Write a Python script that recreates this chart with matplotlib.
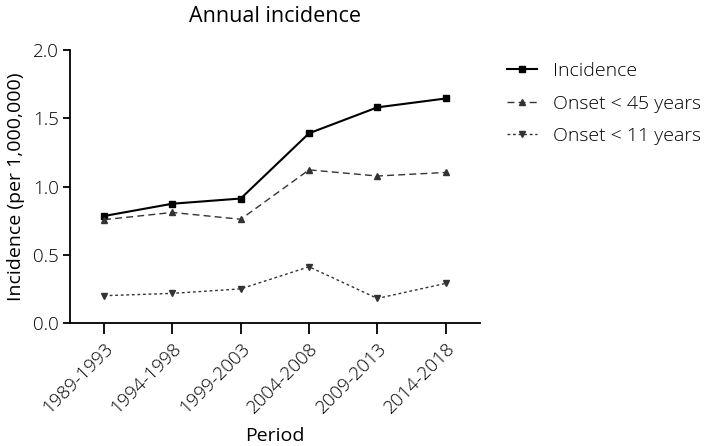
import matplotlib.pyplot as plt

plt.rcParams['font.family'] = ['Open Sans', 'DejaVu Sans']
plt.rcParams['font.weight'] = 'light'

periods = ['1989-1993', '1994-1998', '1999-2003', '2004-2008', '2009-2013', '2014-2018']
incidence = [0.784, 0.874, 0.912, 1.39, 1.58, 1.645]
onset_45 = [0.757, 0.81, 0.76, 1.122, 1.077, 1.103]
onset_11 = [0.20, 0.217, 0.25, 0.412, 0.18, 0.29]

fig = plt.figure(figsize=(7.09, 4.46), dpi=100)
ax = fig.add_axes([0.0987, 0.2758, 0.578, 0.612])

x = list(range(len(periods)))
ax.plot(x, incidence, color='black', lw=1.5, marker='s', ms=5, label='Incidence')
ax.plot(x, onset_45, color='#333333', lw=1.0, ls=(0, (5, 3)), marker='^', ms=4.5, label='Onset < 45 years')
ax.plot(x, onset_11, color='#333333', lw=1.0, ls=(0, (2, 2)), marker='v', ms=4.5, label='Onset < 11 years')

ax.set_xlim(-0.5, 5.5)
ax.set_ylim(0, 2.0)
ax.set_yticks([0.0, 0.5, 1.0, 1.5, 2.0])
ax.set_yticklabels(['0.0', '0.5', '1.0', '1.5', '2.0'], fontsize=13.5)
ax.set_xticks(x)
ax.set_xticklabels(periods, rotation=45, ha='right', rotation_mode='anchor', fontsize=13.5)
ax.spines['top'].set_visible(False)
ax.spines['right'].set_visible(False)
ax.spines['left'].set_linewidth(1.3)
ax.spines['bottom'].set_linewidth(1.3)
ax.tick_params(axis='x', direction='out', length=8, width=1.3, pad=4)
ax.tick_params(axis='y', direction='out', length=5, width=1.3, pad=3)

ax.set_title('Annual incidence', fontsize=15.5, pad=20)
ax.set_ylabel('Incidence (per 1,000,000)', fontsize=14, labelpad=6)
ax.set_xlabel('Period', fontsize=14, labelpad=7)

fig.legend(loc='upper left', bbox_to_anchor=(0.690, 0.90), frameon=False,
           fontsize=14, handlelength=1.55, labelspacing=0.75, handletextpad=0.82)

fig.savefig('out.png', dpi=100)
